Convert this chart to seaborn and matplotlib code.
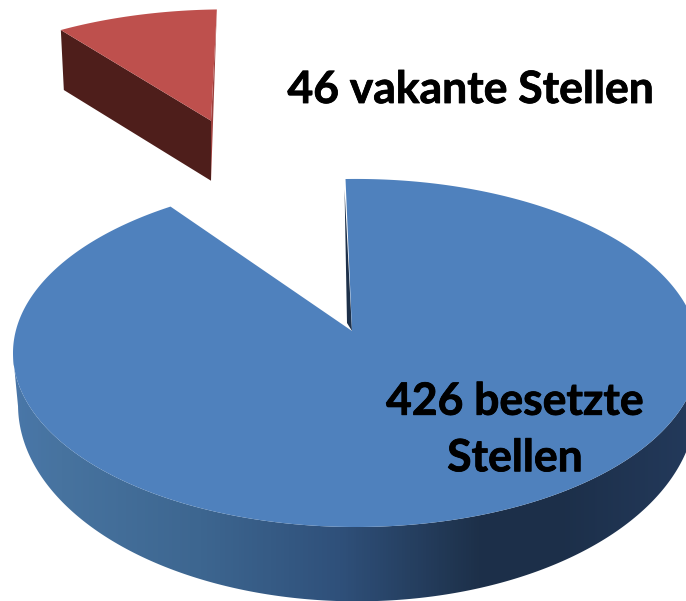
import numpy as np
import matplotlib.pyplot as plt
import matplotlib.patheffects as pe
from matplotlib.colors import LinearSegmentedColormap
from matplotlib.patches import Polygon
import seaborn as sns

labels = ['426 besetzte\nStellen', '46 vakante Stellen']
values = [426, 46]

# projection of the tilted disc, pixels
K = 0.132
TOP = dict(cx=356, cy=330, rx=340, ry=171)
BOTTOM = dict(cx=357, cy=379, rx=336, ry=193)
RED_VIEW = dict(cx=358, cy=329, rx=340, ry=171)
START = 92
EXPLODE = 1.54
RED_R = 1.03
RED_DEPTH = 60

BLUE = '#4f81bd'
RED = '#be504d'
RED_DARK = '#4e1e1b'
RED_EDGE = '#9e403d'
wall_x = [0, 60, 200, 340, 480, 560, 686]
wall_colors = ['#4a78ab', '#47739f', '#3d6690', '#2f507a', '#1d3049', '#1c2f49', '#23395a']


def project(x, y, p):
    d = 1 + K * y
    return p['cx'] + p['rx'] * x / d, p['cy'] - p['ry'] * y / d


sns.set_theme(style='white')
fig = plt.figure(figsize=(6.86, 6.01), dpi=100)
ax = fig.add_axes([0, 0, 1, 1])

# wedge angles come from the values, clockwise from the top
spans = np.array(values) / sum(values) * 360
blue_end = START - spans[0]
red_start, red_end = START, START + spans[1]

t = np.radians(np.linspace(START, blue_end, 500))
tx, ty = project(np.cos(t), np.sin(t), TOP)

# blue side wall, only the part facing us, filled with a left to right gradient
front = np.radians(np.linspace(188, 352, 300))
fx, fy = project(np.cos(front), np.sin(front), TOP)
gx, gy = project(np.cos(front), np.sin(front), BOTTOM)
wall = Polygon(np.c_[np.r_[fx, gx[::-1]], np.r_[fy, gy[::-1]]], closed=True, transform=ax.transData, fc='none', lw=0)
ax.add_patch(wall)
cmap = LinearSegmentedColormap.from_list('wall', [(x / 686, c) for x, c in zip(wall_x, wall_colors)])
im = ax.imshow(np.linspace(0, 1, 686)[None, :], cmap=cmap, extent=[0, 686, 601, 0], aspect='auto', vmin=0, vmax=1)
im.set_clip_path(wall)

# blue top face and the thin inner wall at the cut
apex = (352, 331)
ax.fill([tx[0] - 1, apex[0] - 5, apex[0]], [ty[0] + 10, apex[1] - 8, apex[1]], color='#1d3049', lw=0)
ax.fill(np.r_[tx, apex[0]], np.r_[ty, apex[1]], color=BLUE, lw=0)

# exploded red wedge
mid = np.radians((red_start + red_end) / 2)
ox, oy = EXPLODE * np.cos(mid), EXPLODE * np.sin(mid)
a = np.radians(np.linspace(red_start, red_end, 60))
rx, ry = project(ox + RED_R * np.cos(a), oy + RED_R * np.sin(a), RED_VIEW)
ax_, ay_ = project(ox, oy, RED_VIEW)
ax.fill([rx[0], ax_, ax_], [ry[0], ay_, ay_ + RED_DEPTH], color=RED_EDGE, lw=0)
ax.fill([ax_, rx[-1], rx[-1] + 3, ax_], [ay_, ry[-1], ry[-1] + RED_DEPTH, ay_ + RED_DEPTH], color=RED_DARK, lw=0)
ax.fill(np.r_[rx, ax_], np.r_[ry, ay_], color=RED, lw=0)

font = dict(family='Lato', fontweight='bold', color='black', ha='center', va='center',
            path_effects=[pe.withStroke(linewidth=0.6, foreground='black')])
ax.text(471, 90, labels[1], fontsize=32, **font)
ax.text(515, 430, labels[0], fontsize=32, linespacing=1.5, **font)

ax.set_xlim(0, 686)
ax.set_ylim(601, 0)
ax.axis('off')
fig.savefig('out.png', dpi=100)
